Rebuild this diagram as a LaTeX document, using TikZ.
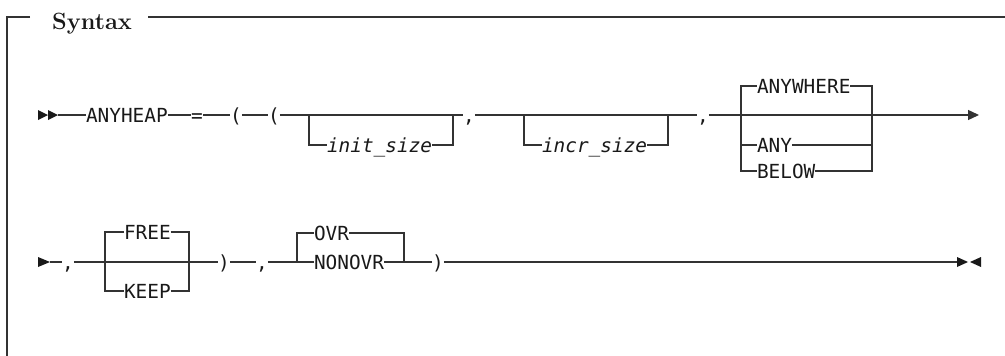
\documentclass[tikz,border=0pt]{standalone}
\usepackage{fontspec}
\usepackage{tikz}
\usetikzlibrary{arrows.meta,positioning,calc}
\newfontfamily\railfont{DejaVu Sans Mono}

\begin{document}
\begin{tikzpicture}[x=1pt, y=-1pt,
    rail/.style={draw=black!80, line width=1.4pt},
    kw/.style={inner sep=0pt, outer sep=0pt, text=black!90, text height=14.2pt, text depth=0pt,
        font=\railfont\fontsize{19.4}{22}\selectfont},
    var/.style={kw, font=\railfont\itshape\fontsize{19.4}{22}\selectfont}]
    \useasboundingbox (0,0) rectangle (1005,356);

    % frame
    \node[font=\bfseries\fontsize{23.5}{28}\selectfont, inner sep=0pt, anchor=base west, text=black!90] (title) at (52,30) {Syntax};
    \draw[rail] (30,17) -| (7,356);
    \draw[rail] (148,17) -- (1005,17);

    % first line
    \coordinate (st1) at (58,115);
    \fill[black!90] (38,110) -- (48,115) -- (38,120) -- cycle (48,110) -- (58,115) -- (48,120) -- cycle;
    \node[kw, anchor=west] (anyheap) at (86,115) {ANYHEAP};
    \node[kw] (eq) at (197,115) {=};
    \node[kw] (lpa) at (236,115) {(};
    \node[kw] (lpb) at (274,115) {(};
    \coordinate (initL) at (309,115);
    \coordinate (initR) at (453,115);
    \node[var, anchor=west] (init) at (327,145) {init\_size};
    \node[kw] (cma) at (469,115) {,};
    \coordinate (incrL) at (524,115);
    \coordinate (incrR) at (668,115);
    \node[var, anchor=west] (incr) at (542,145) {incr\_size};
    \node[kw] (cmb) at (703,115) {,};
    \coordinate (locL) at (741,115);
    \coordinate (locR) at (872,115);
    \node[kw, anchor=west] (anywhere) at (757,86) {ANYWHERE};
    \node[kw, anchor=west] (any) at (757,145) {ANY};
    \node[kw, anchor=west] (below) at (757,171) {BELOW};
    \coordinate (end1) at (979,115);

    \draw[rail] (st1) -- (anyheap) -- (eq) -- (lpa) -- (lpb) -- (initL) -- (initR) -- (cma)
        -- (incrL) -- (incrR) -- (cmb) -- (locL) -- (locR);
    \draw[rail, -{Triangle[length=11pt, width=10pt]}] (locR) -- (end1);
    \draw[rail] (initL) |- (init);
    \draw[rail] (init) -| (initR);
    \draw[rail] (incrL) |- (incr);
    \draw[rail] (incr) -| (incrR);
    \draw[rail] (locL) |- (anywhere);
    \draw[rail] (anywhere) -| (locR);
    \draw[rail] (locL) |- (any);
    \draw[rail] (any) -| (locR);
    \draw[rail] (locL) |- (below);
    \draw[rail] (below) -| (locR);

    % second line
    \coordinate (st2) at (50,262);
    \fill[black!90] (38,257) -- (50,262) -- (38,267) -- cycle;
    \node[kw] (cmc) at (68,262) {,};
    \coordinate (keepL) at (105,262);
    \coordinate (keepR) at (189,262);
    \node[kw, anchor=west] (free) at (124,232) {FREE};
    \node[kw, anchor=west] (keep) at (124,291) {KEEP};
    \node[kw] (rpa) at (224,262) {)};
    \node[kw] (cmd) at (262,262) {,};
    \coordinate (ovrL) at (297,262);
    \coordinate (ovrR) at (404,262);
    \node[kw, anchor=west] (ovr) at (314,233) {OVR};
    \node[kw, anchor=west] (nonovr) at (314,262) {NONOVR};
    \node[kw] (rpb) at (438,262) {)};
    \coordinate (end2) at (957,262);
    \fill[black!90] (957,257) -- (968,262) -- (957,267) -- cycle (981,257) -- (970,262) -- (981,267) -- cycle;

    \draw[rail] (st2) -- (cmc) -- (keepL) -- (keepR) -- (rpa) -- (cmd) -- (ovrL) -- (nonovr)
        -- (ovrR) -- (rpb) -- (end2);
    \draw[rail] (keepL) |- (free);
    \draw[rail] (free) -| (keepR);
    \draw[rail] (keepL) |- (keep);
    \draw[rail] (keep) -| (keepR);
    \draw[rail] (ovrL) |- (ovr);
    \draw[rail] (ovr) -| (ovrR);
\end{tikzpicture}
\end{document}
